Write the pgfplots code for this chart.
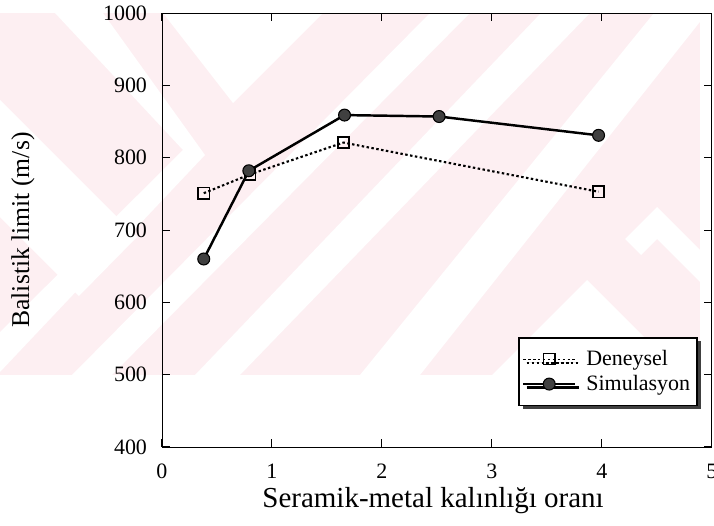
\documentclass[border=0pt]{standalone}
\usepackage{pgfplots}
\pgfplotsset{compat=1.18}
\usetikzlibrary{shadows}
\usepackage{fontspec}
\setmainfont{Liberation Serif}
\definecolor{wm}{RGB}{253,239,242}
\begin{document}
\begin{tikzpicture}[x=0.02cm,y=0.02cm]
\useasboundingbox (0,0) rectangle (714,525);
% background watermark (approximate), pixel coordinates with y pointing down
\begin{scope}[shift={(0,525)}, yscale=-1]
\clip (0,13) rectangle (700,375);
\fill[wm] (0,13) rectangle (700,375);
\fill[white] (430,13) -- (470,13) -- (112,375) -- (72,375) -- cycle;
\fill[white] (541,13) -- (590,13) -- (240,375) -- (195,375) -- cycle;
\fill[white] (654,13) -- (707,13) -- (420,375) -- (360,375) -- cycle;
\fill[white] (163,13) -- (323,13) -- (233,103) -- cycle;
\fill[white] (55,13) -- (103,13) -- (205,155) -- (0,372) -- (0,332) -- (183,150) -- cycle;
\fill[white] (0,100) -- (137,237) -- (79,296) -- (0,217) -- cycle;
\fill[white] (492,375) -- (587,280) -- (682,375) -- cycle;
\fill[white] (625,239) -- (657,207) -- (700,250) -- (700,282) -- (657,239) -- (641,255) -- cycle;
\end{scope}
\begin{axis}[
  at={(3.24cm,1.56cm)}, anchor=south west,
  scale only axis, width=11cm, height=8.68cm,
  xmin=0, xmax=5, ymin=400, ymax=1000,
  xtick={0,1,2,3,4,5}, ytick={400,500,600,700,800,900,1000},
  minor tick num=0,
  tick align=inside, major tick length=0.16cm,
  axis line style={black, line width=0.5pt},
  tick style={black, line width=0.6pt},
  /pgf/number format/assume math mode=true,
  /pgf/number format/1000 sep={},
  ticklabel style={font=\fontsize{12.5}{13}\selectfont},
  yticklabel style={xshift=-5pt},
  xticklabel style={yshift=-6pt},
  xlabel={Seramik-metal kalınlığı oranı},
  ylabel={Balistik limit (m/s)},
  xlabel style={font=\fontsize{16.5}{18}\selectfont, at={(axis description cs:0.493,-0.124)}, anchor=center},
  ylabel style={font=\fontsize{14.6}{16}\selectfont, at={(axis description cs:-0.253,0.5)}, anchor=center, rotate=0},
  legend style={at={(0.9745,0.0945)}, anchor=south east,
    font=\fontsize{12.5}{13}\selectfont, draw=black, line width=0.8pt,
    fill=white, drop shadow={shadow xshift=2pt, shadow yshift=-2pt, fill=black!75, opacity=1},
    row sep=0pt, column sep=4pt, inner xsep=2pt, inner ysep=5pt},
  legend cell align=left,
  legend image code/.code={\draw[mark repeat=2,mark phase=2,#1,line width=0.7pt] plot coordinates {(0cm,0cm) (0.52cm,0cm) (1.04cm,0cm)};},
]
\addplot[black, line width=1.2pt, dash pattern=on 1.4pt off 1.4pt,
  mark=square, mark size=3.2pt, mark options={solid, line width=0.8pt, fill=white}]
  coordinates {(0.38,751) (0.80,777) (1.65,821) (3.97,753)};
\addlegendentry{Deneysel}
\addplot[black, line width=1.4pt,
  mark=*, mark size=3.4pt, mark options={solid, line width=0.6pt, fill=black!75, draw=black}]
  coordinates {(0.38,660) (0.79,782) (1.66,859) (2.52,857) (3.97,831)};
\addlegendentry{Simulasyon}
\end{axis}
\end{tikzpicture}
\end{document}
